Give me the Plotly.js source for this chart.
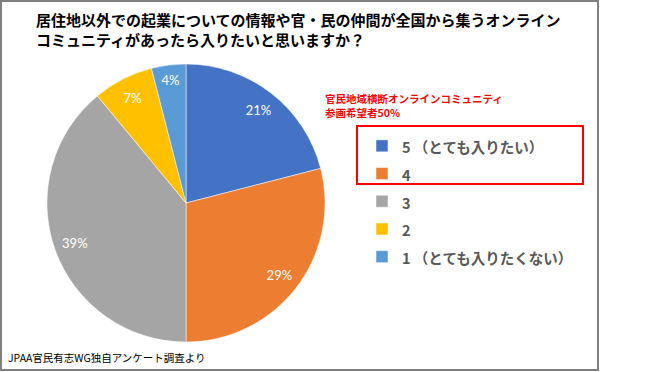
<!DOCTYPE html>
<html>
<head>
<meta charset="utf-8">
<script src="https://cdn.plot.ly/plotly-3.0.1.min.js"></script>
<style>html,body{margin:0;padding:0;background:#fff;}#chart{width:650px;height:372px;}</style>
</head>
<body>
<div id="chart"></div>
<script>
const categories = ["5（とても入りたい）", "4", "3", "2", "1（とても入りたくない）"];
const shares = [21, 29, 39, 7, 4];
const colors = ["#4472C4", "#ED7D31", "#A5A5A5", "#FFC000", "#5B9BD5"];
const titleLines = ["居住地以外での起業についての情報や官・民の仲間が全国から集うオンライン", "コミュニティがあったら入りたいと思いますか？"];
const noteLines = ["官民地域横断オンラインコミュニティ", "参画希望者50%"];
const sourceText = "JPAA官民有志WG独自アンケート調査より";

const W = 650, H = 372;
const px = v => v / W, py = v => 1 - v / H;
const cjk = '"Noto Sans CJK JP", "Noto Sans", sans-serif';

const legendLabels = categories.map(c => '<span style="font-size:14.5px">' + c.replace(/^(\d)/, '$1 ') + '</span>');
const pieDomain = {x: [px(186 - 139), px(186 + 139)], y: [1 - (203 + 139) / H, 1 - (203 - 139) / H]};

const slices = {
  type: 'pie',
  values: shares,
  labels: legendLabels,
  marker: {colors: colors, line: {color: '#ffffff', width: 0.5}},
  sort: false,
  direction: 'clockwise',
  rotation: 0,
  textinfo: 'none',
  domain: pieDomain,
  hoverinfo: 'none'
};

// label ring: same data, transparent, so percentages sit near the rim like the original
const labelRing = {
  type: 'pie',
  values: shares,
  labels: categories,
  hole: 0.7,
  marker: {colors: categories.map(() => 'rgba(0,0,0,0)'), line: {width: 0}},
  sort: false,
  direction: 'clockwise',
  rotation: 0,
  showlegend: false,
  texttemplate: '%{value}%',
  textposition: 'inside',
  insidetextorientation: 'horizontal',
  textfont: {color: '#ffffff', size: 13, family: 'Lato, "Noto Sans", sans-serif'},
  domain: pieDomain,
  hoverinfo: 'none'
};

const layout = {
  width: W, height: H,
  margin: {l: 0, r: 0, t: 0, b: 0},
  paper_bgcolor: '#ffffff',
  showlegend: true,
  legend: {
    x: px(362), y: py(127), xanchor: 'left', yanchor: 'top',
    font: {size: 19, color: '#595959', family: cjk, weight: 'bold'},
    bgcolor: 'rgba(0,0,0,0)'
  },
  annotations: [
    {text: titleLines.join('<br>'), xref: 'paper', yref: 'paper', x: px(34), y: py(7), xanchor: 'left', yanchor: 'top', align: 'left', showarrow: false,
     font: {size: 15, color: '#000000', family: cjk, weight: 'bold'}},
    {text: noteLines.join('<br>'), xref: 'paper', yref: 'paper', x: px(323), y: py(89), xanchor: 'left', yanchor: 'top', align: 'left', showarrow: false,
     font: {size: 10.5, color: '#FF0000', family: cjk, weight: 'bold'}},
    {text: sourceText, xref: 'paper', yref: 'paper', x: px(6), y: py(357), xanchor: 'left', yanchor: 'middle', showarrow: false,
     font: {size: 10.5, color: '#000000', family: cjk}}
  ],
  shapes: [
    {type: 'rect', xref: 'paper', yref: 'paper', x0: px(1), x1: px(598), y0: py(370), y1: py(1), line: {color: '#7F7F7F', width: 2}},
    {type: 'rect', xref: 'paper', yref: 'paper', x0: px(357), x1: px(583), y0: py(184), y1: py(126), line: {color: '#FF0000', width: 2}}
  ]
};

Plotly.newPlot('chart', [slices, labelRing], layout, {displayModeBar: false, staticPlot: true});
</script>
</body>
</html>
